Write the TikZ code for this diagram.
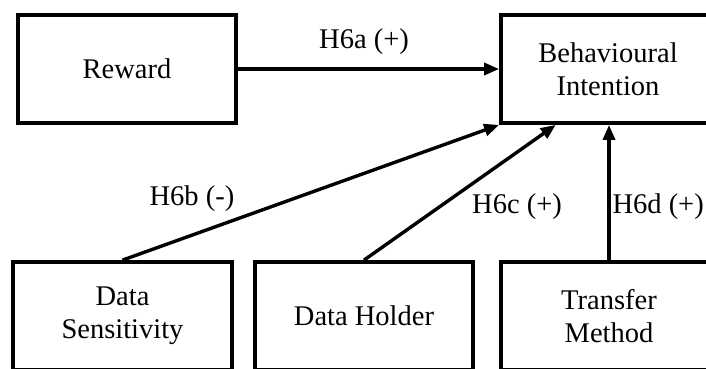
\documentclass[tikz,border=0pt]{standalone}
\usepackage{fontspec}
\setmainfont{Liberation Serif}
\usetikzlibrary{arrows.meta,calc}
\begin{document}
\begin{tikzpicture}[x=1pt,y=-1pt,
  box/.style={draw=black,line width=3.8pt,minimum height=108pt,inner sep=0pt,align=center,
    font=\fontsize{28.5}{33}\selectfont},
  lbl/.style={inner sep=0pt,font=\fontsize{28.5}{33}\selectfont},
  arr/.style={line width=3.4pt,-{Triangle[length=15pt,width=12pt]}}]
\useasboundingbox (0,0) rectangle (706,368);
\begin{scope}
\clip (0,0) rectangle (706,368);
\node[box,minimum width=218pt] (R) at (127,69) {Reward};
\node[box,minimum width=214pt] (BI) at (608,69) {Behavioural\\Intention};
\node[box,minimum width=219pt] (DS) at (122.5,316) {Data\\Sensitivity};
\node[box,minimum width=218pt] (DH) at (364,316) {Data Holder};
\node[box,minimum width=216pt] (TM) at (609,316) {Transfer\\Method};
\coordinate (BIc) at ($(BI.south west)!0.26!(BI.south east)$);
\draw[arr] (R.east) -- (BI.west);
\draw[arr] (DS.north) -- (BI.south west);
\draw[arr] (DH.north) -- (BIc);
\draw[arr] (TM.north) -- (TM.north |- BI.south);
\node[lbl] (la) at (364,42) {H6a (+)};
\node[lbl] (lb) at (192,199) {H6b (-)};
\node[lbl] (lc) at (517,207) {H6c (+)};
\node[lbl,anchor=east] (ld) at (704,207) {H6d (+)};
\end{scope}
\end{tikzpicture}
\end{document}
